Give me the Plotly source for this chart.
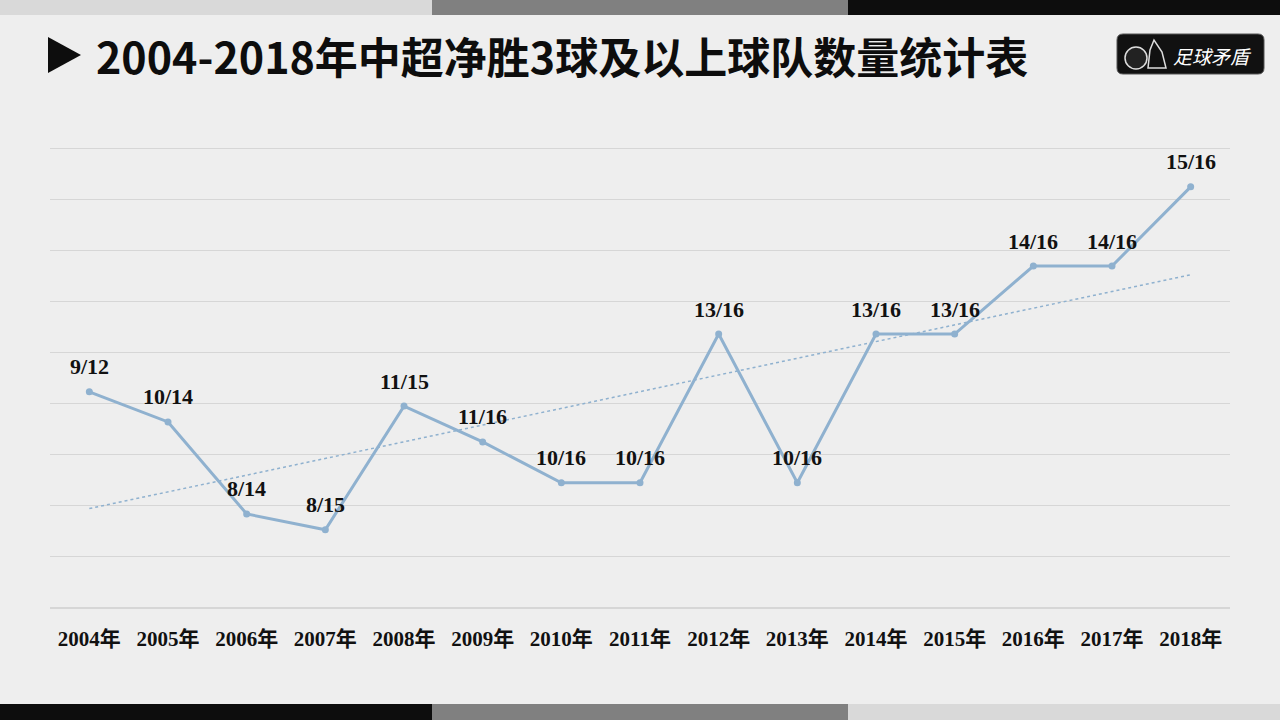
import numpy as np
import plotly.graph_objects as go

# Data
years = ["2004年", "2005年", "2006年", "2007年", "2008年", "2009年", "2010年", "2011年",
         "2012年", "2013年", "2014年", "2015年", "2016年", "2017年", "2018年"]
labels = ["9/12", "10/14", "8/14", "8/15", "11/15", "11/16", "10/16", "10/16",
          "13/16", "10/16", "13/16", "13/16", "14/16", "14/16", "15/16"]
values = [4.23, 3.64, 1.84, 1.53, 3.95, 3.25, 2.45, 2.45,
          5.36, 2.45, 5.36, 5.36, 6.69, 6.69, 8.24]

W, H = 1280, 720
def px(x): return x / W
def py(y): return 1 - y / H

LINE = "#8fb1cf"
SERIF = "Liberation Serif, Noto Sans CJK SC, serif"

xi = np.arange(len(years))
coef = np.polyfit(xi, values, 1)
trend = np.polyval(coef, xi)

fig = go.Figure()
fig.add_trace(go.Scatter(x=years, y=trend, mode="lines",
                         line=dict(color=LINE, width=1.5, dash="dot"),
                         hoverinfo="skip", showlegend=False))
fig.add_trace(go.Scatter(x=years, y=values, mode="lines+markers",
                         line=dict(color=LINE, width=3),
                         marker=dict(color=LINE, size=7),
                         showlegend=False))

for yr, v, lab in zip(years, values, labels):
    fig.add_annotation(x=yr, y=v, text="<b>" + lab + "</b>", showarrow=False,
                       yshift=25, font=dict(family=SERIF, size=22, color="#111111"))

shapes = []
# top bars
for x0, x1, c in [(0, 432, "#d9d9d9"), (432, 848, "#808080"), (848, 1280, "#0d0d0d")]:
    shapes.append(dict(type="rect", xref="paper", yref="paper", x0=px(x0), x1=px(x1),
                       y0=py(15), y1=py(0), fillcolor=c, line=dict(width=0), layer="above"))
# bottom bars
for x0, x1, c in [(0, 432, "#0d0d0d"), (432, 848, "#808080"), (848, 1280, "#d9d9d9")]:
    shapes.append(dict(type="rect", xref="paper", yref="paper", x0=px(x0), x1=px(x1),
                       y0=py(720), y1=py(704), fillcolor=c, line=dict(width=0), layer="above"))
# title triangle
shapes.append(dict(type="path", xref="paper", yref="paper",
                   path=f"M {px(48)},{py(37)} L {px(81)},{py(55)} L {px(48)},{py(73)} Z",
                   fillcolor="#0d0d0d", line=dict(width=0)))
# logo box
bx0, bx1, by0, by1, r = 1117, 1264, 34, 74, 6
path = (f"M {px(bx0+r)},{py(by0)} L {px(bx1-r)},{py(by0)} "
        f"Q {px(bx1)},{py(by0)} {px(bx1)},{py(by0+r)} L {px(bx1)},{py(by1-r)} "
        f"Q {px(bx1)},{py(by1)} {px(bx1-r)},{py(by1)} L {px(bx0+r)},{py(by1)} "
        f"Q {px(bx0)},{py(by1)} {px(bx0)},{py(by1-r)} L {px(bx0)},{py(by0+r)} "
        f"Q {px(bx0)},{py(by0)} {px(bx0+r)},{py(by0)} Z")
shapes.append(dict(type="path", xref="paper", yref="paper", path=path,
                   fillcolor="#111111", line=dict(color="#555555", width=1)))
shapes.append(dict(type="circle", xref="paper", yref="paper",
                   x0=px(1125), x1=px(1147), y0=py(69), y1=py(47),
                   fillcolor="#222222", line=dict(color="#dddddd", width=1.5)))
shapes.append(dict(type="path", xref="paper", yref="paper",
                   path=f"M {px(1148)},{py(68)} L {px(1166)},{py(68)} L {px(1162)},{py(52)} L {px(1154)},{py(40)} L {px(1150)},{py(50)} Z",
                   fillcolor="rgba(0,0,0,0)", line=dict(color="#dddddd", width=1.5)))

fig.add_annotation(xref="paper", yref="paper", x=px(94), y=py(55), xanchor="left", yanchor="middle",
                   text="<b>2004-2018年中超净胜3球及以上球队数量统计表</b>", showarrow=False,
                   font=dict(family="Noto Sans CJK SC, sans-serif", size=43, color="#0d0d0d"))
fig.add_annotation(xref="paper", yref="paper", x=px(1212), y=py(56), xanchor="center", yanchor="middle",
                   text="<i>足球矛盾</i>", showarrow=False,
                   font=dict(family="Noto Sans CJK SC, sans-serif", size=19, color="#ffffff"))

fig.update_layout(
    width=W, height=H,
    margin=dict(l=0, r=0, t=0, b=0),
    paper_bgcolor="#eeeeee", plot_bgcolor="rgba(0,0,0,0)",
    shapes=shapes,
    xaxis=dict(domain=[px(50), px(1230)], range=[-0.5, 14.5], showgrid=False, zeroline=False,
               showline=False, ticks="", ticklabelstandoff=16,
               tickfont=dict(family=SERIF, size=21, color="#111111"),
               tickmode="array", tickvals=years, ticktext=["<b>" + y + "</b>" for y in years]),
    yaxis=dict(domain=[py(608), py(147)], range=[0, 9.02], tick0=0, dtick=1, showgrid=True,
               gridcolor="#d6d6d6", gridwidth=1, zeroline=True, zerolinecolor="#d6d6d6",
               showticklabels=False, showline=False),
)

fig.write_html("out.html", config={"displayModeBar": False},
               post_script="document.body.style.margin='0';document.body.style.background='#eeeeee';")
